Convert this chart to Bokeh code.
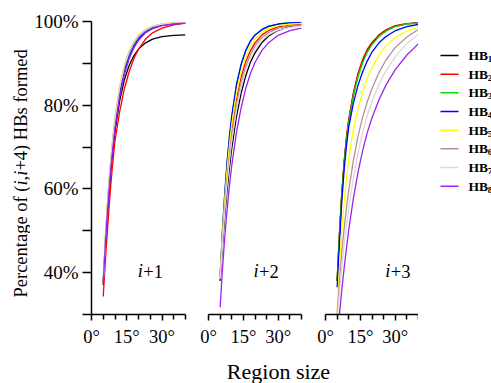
from bokeh.plotting import figure
from bokeh.models import Range1d, FixedTicker
from bokeh.layouts import row, column
from bokeh.embed import file_html
from bokeh.resources import INLINE
from bokeh.core.properties import value

# ---------------- data ----------------
x_deg = [5, 6, 7, 8, 9, 10, 12, 14, 16, 18, 20, 23, 26, 30, 35, 40]

series_names = ["HB", "HB", "HB", "HB", "HB", "HB", "HB", "HB"]
series_subs = ["1", "2", "3", "4", "5", "6", "7", "8"]
colors = ["#000000", "#ff0000", "#00e000", "#0000ff", "#ffff00", "#bc8f8f", "#d9d9d9", "#a020f0"]

panel_tags = ["+1", "+2", "+3"]

# panel i+1
i1_hb1 = [37.0, 47.4, 55.9, 63.0, 68.9, 73.7, 81.1, 86.1, 89.5, 91.8, 93.4, 94.9, 95.8, 96.4, 96.7, 96.8]
i1_hb2 = [34.3, 43.7, 51.8, 59.5, 66.0, 71.5, 78.5, 84.0, 88.0, 91.1, 93.4, 95.8, 97.3, 98.4, 99.2, 99.6]
i1_hb3 = [38.0, 48.8, 57.7, 65.1, 71.1, 76.1, 83.7, 88.8, 92.3, 94.7, 96.3, 97.85, 98.7, 99.3, 99.6, 99.7]
i1_hb4 = [37.7, 48.2, 56.9, 64.1, 70.1, 75.1, 82.7, 88.0, 91.6, 94.1, 95.8, 97.5, 98.4, 99.1, 99.5, 99.6]
i1_hb5 = [38.0, 49.2, 58.4, 65.9, 72.0, 77.1, 84.6, 89.6, 92.95, 95.2, 96.7, 98.1, 98.9, 99.4, 99.65, 99.7]
i1_hb6 = [38.0, 49.0, 58.1, 65.5, 71.6, 76.7, 84.2, 89.3, 92.7, 95.0, 96.6, 98.0, 98.85, 99.35, 99.6, 99.7]
i1_hb7 = [38.0, 49.1, 58.3, 65.7, 71.8, 76.9, 84.4, 89.5, 92.8, 95.1, 96.65, 98.05, 98.9, 99.4, 99.65, 99.7]
i1_hb8 = [37.5, 47.7, 56.3, 63.5, 69.4, 74.4, 82.1, 87.4, 91.1, 93.7, 95.5, 97.3, 98.3, 99.0, 99.4, 99.6]

# panel i+2
i2_hb1 = [38.0, 46.3, 53.5, 59.7, 65.1, 69.7, 77.2, 82.8, 87.0, 90.2, 92.5, 95.0, 96.6, 97.9, 98.8, 99.25]
i2_hb2 = [39.0, 48.6, 56.6, 63.4, 69.1, 73.9, 81.3, 86.6, 90.4, 93.0, 94.9, 96.8, 97.9, 98.7, 99.15, 99.4]
i2_hb3 = [39.0, 49.8, 58.8, 66.2, 72.3, 77.2, 84.6, 89.6, 92.9, 95.2, 96.7, 98.0, 98.85, 99.4, 99.65, 99.8]
i2_hb4 = [39.0, 50.0, 59.0, 66.4, 72.5, 77.4, 84.8, 89.75, 93.1, 95.3, 96.8, 98.1, 98.9, 99.4, 99.65, 99.75]
i2_hb5 = [39.0, 49.2, 57.6, 64.7, 70.5, 75.4, 82.8, 88.0, 91.6, 94.1, 95.8, 97.4, 98.3, 99.0, 99.35, 99.55]
i2_hb6 = [39.0, 48.1, 55.8, 62.4, 67.9, 72.7, 80.1, 85.5, 89.3, 92.1, 94.2, 96.2, 97.4, 98.4, 98.95, 99.2]
i2_hb7 = [38.5, 47.3, 54.8, 61.2, 66.7, 71.4, 78.8, 84.3, 88.3, 91.2, 93.4, 95.5, 96.9, 98.0, 98.6, 98.9]
i2_hb8 = [31.7, 40.8, 48.5, 55.0, 60.8, 65.6, 73.4, 79.3, 84.0, 87.5, 90.2, 93.1, 95.0, 96.7, 97.8, 98.4]

# panel i+3
i3_hb1 = [38.0, 49.2, 58.7, 66.2, 72.0, 76.4, 82.7, 87.3, 90.7, 93.1, 94.8, 96.7, 97.9, 98.9, 99.45, 99.7]
i3_hb2 = [38.0, 49.5, 59.0, 66.5, 72.3, 76.7, 83.0, 87.6, 91.0, 93.4, 95.0, 96.8, 98.0, 99.0, 99.5, 99.75]
i3_hb3 = [38.0, 49.0, 58.4, 65.8, 71.6, 75.9, 82.2, 86.8, 90.2, 92.7, 94.5, 96.4, 97.7, 98.8, 99.4, 99.65]
i3_hb4 = [36.5, 47.0, 57.0, 64.5, 70.3, 74.8, 80.5, 84.8, 88.0, 90.6, 92.7, 94.9, 96.4, 97.8, 98.8, 99.3]
i3_hb5 = [30.7, 41.0, 50.0, 56.8, 62.5, 67.2, 74.3, 79.2, 83.2, 86.5, 89.0, 92.0, 94.2, 96.2, 97.7, 98.7]
i3_hb6 = [30.0, 38.0, 44.8, 50.5, 55.4, 59.6, 66.8, 72.6, 77.2, 80.9, 84.0, 87.8, 90.8, 93.8, 96.3, 98.1]
i3_hb7 = [28.5, 35.3, 41.3, 46.6, 51.2, 55.3, 62.6, 68.6, 73.6, 77.6, 80.9, 85.0, 88.2, 91.6, 94.7, 97.0]
i3_hb8 = [24.0, 30.0, 35.8, 41.0, 45.8, 50.2, 57.8, 64.0, 69.2, 73.5, 77.0, 81.3, 84.8, 88.5, 92.0, 94.7]

panel_series = [
    [i1_hb1, i1_hb2, i1_hb3, i1_hb4, i1_hb5, i1_hb6, i1_hb7, i1_hb8],
    [i2_hb1, i2_hb2, i2_hb3, i2_hb4, i2_hb5, i2_hb6, i2_hb7, i2_hb8],
    [i3_hb1, i3_hb2, i3_hb3, i3_hb4, i3_hb5, i3_hb6, i3_hb7, i3_hb8],
]

y_ticks = [30, 40, 50, 60, 70, 80, 90, 100]
y_tick_labels = {30: "", 40: "40%", 50: "", 60: "60%", 70: "", 80: "80%", 90: "", 100: "100%"}
x_major = [0, 15, 30]
x_minor = [5, 10, 20, 25, 35, 40]
x_tick_labels = {0: "0°", 15: "15°", 30: "30°"}

y_title_parts = ["Percentage of (", "i", ",", "i", "+4) HBs formed"]
y_title_styles = ["normal", "italic", "normal", "italic", "normal"]
x_title = "Region size"

# ---------------- layout ----------------
SERIF = "Liberation Serif"
ROW_H = 350
TOP = 21
BOTTOM = 36
FR_BOT = ROW_H - BOTTOM   # pixel row of the frame bottom
YT_W = 30

widths = [196 - YT_W, 117, 105]
left_b = [91 - YT_W, 12, 12]
right_b = [11, 12, 0]
label_x = [19.7, 19.4, 25.7]


def bare(width, height, xr, yr, top=0, bottom=0):
    f = figure(width=width, height=height, x_range=xr, y_range=yr, title=None,
               x_axis_location=None, y_axis_location=None, toolbar_location=None,
               output_backend="svg", min_border_left=0, min_border_right=0,
               min_border_top=top, min_border_bottom=bottom)
    f.outline_line_color = None
    f.grid.visible = False
    return f


def make_panel(k):
    p = figure(width=widths[k], height=ROW_H, x_range=Range1d(0, 40), y_range=Range1d(30, 100),
               title=None, toolbar_location=None, output_backend="svg",
               min_border_left=left_b[k], min_border_right=right_b[k],
               min_border_top=TOP, min_border_bottom=BOTTOM,
               y_axis_location="left" if k == 0 else None)
    p.outline_line_color = None
    p.grid.visible = False

    xa = p.xaxis[0]
    xa.ticker = FixedTicker(ticks=x_major, minor_ticks=x_minor)
    xa.major_label_overrides = x_tick_labels
    xa.axis_line_width = 1.5
    xa.major_tick_line_width = 1.5
    xa.minor_tick_line_width = 1.5
    xa.major_tick_out = 6
    xa.major_tick_in = 0
    xa.minor_tick_out = 5
    xa.minor_tick_in = 0
    xa.major_label_text_font = SERIF
    xa.major_label_text_font_size = "18.5px"
    xa.major_label_text_color = "black"
    xa.major_label_standoff = 6

    if k == 0:
        ya = p.yaxis[0]
        ya.ticker = FixedTicker(ticks=y_ticks)
        ya.major_label_overrides = y_tick_labels
        ya.axis_line_width = 1.5
        ya.major_tick_line_width = 1.5
        ya.major_tick_out = 9
        ya.major_tick_in = 0
        ya.minor_tick_out = 0
        ya.major_label_text_font = SERIF
        ya.major_label_text_font_size = "19px"
        ya.major_label_text_color = "black"
        ya.major_label_standoff = 4

    for vals, c in zip(panel_series[k], colors):
        p.line(x_deg, vals, line_color=c, line_width=1.3)

    # panel tag: italic i followed by +n
    p.text(x=[label_x[k]], y=[40.3], text=["i"], text_font=value(SERIF), text_font_style="italic",
           text_font_size="18.5px", text_color="black", text_baseline="alphabetic", text_align="left")
    p.text(x=[label_x[k]], y=[40.3], text=[panel_tags[k]], text_font=value(SERIF),
           text_font_size="18.5px", text_color="black", text_baseline="alphabetic", text_align="left",
           x_offset=5.5)
    return p


panels = [make_panel(k) for k in range(3)]

# y axis title strip: data units = pixels (y counted upward from the row bottom)
yt = bare(YT_W, ROW_H, Range1d(0, YT_W), Range1d(ROW_H - FR_BOT, ROW_H - TOP), TOP, BOTTOM)
FS = 18.5
adv = {"Percentage of (": 6.053, "i": 0.278, ",": 0.25, "+4) HBs formed": 6.563}
ycur = ROW_H - 297
for txt, style in zip(y_title_parts, y_title_styles):
    yt.text(x=[20], y=[ycur], text=[txt], angle=90, angle_units="deg",
            text_font=value(SERIF), text_font_style=style, text_font_size=f"{FS}px",
            text_color="black", text_align="left", text_baseline="alphabetic")
    ycur += adv[txt] * FS

# legend: data units = pixels from the top
leg = bare(73, ROW_H, Range1d(418, 491), Range1d(FR_BOT, TOP), TOP, BOTTOM)
ys = [55 + 18.67 * i for i in range(len(series_names))]
leg.segment(x0=[440] * 8, x1=[458] * 8, y0=ys, y1=ys, line_color=colors, line_width=1.5)
leg.text(x=[468] * 8, y=ys, text=series_names, text_font=value(SERIF), text_font_style="bold",
         text_font_size="13.5px", text_color="black", text_baseline="middle", text_align="left")
leg.text(x=[487.2] * 8, y=[v + 3.5 for v in ys], text=series_subs, text_font=value(SERIF),
         text_font_style="bold", text_font_size="9px", text_color="black",
         text_baseline="middle", text_align="left")

# x axis title
bot = bare(491, 383 - ROW_H, Range1d(0, 491), Range1d(383 - ROW_H, 0))
bot.text(x=[278], y=[21], text=[x_title], text_font=value(SERIF), text_font_size="22px",
         text_color="black", text_baseline="alphabetic", text_align="center")

layout = column(row(yt, *panels, leg, spacing=0), bot, spacing=0)
open("out.html", "w").write(file_html(layout, INLINE))
